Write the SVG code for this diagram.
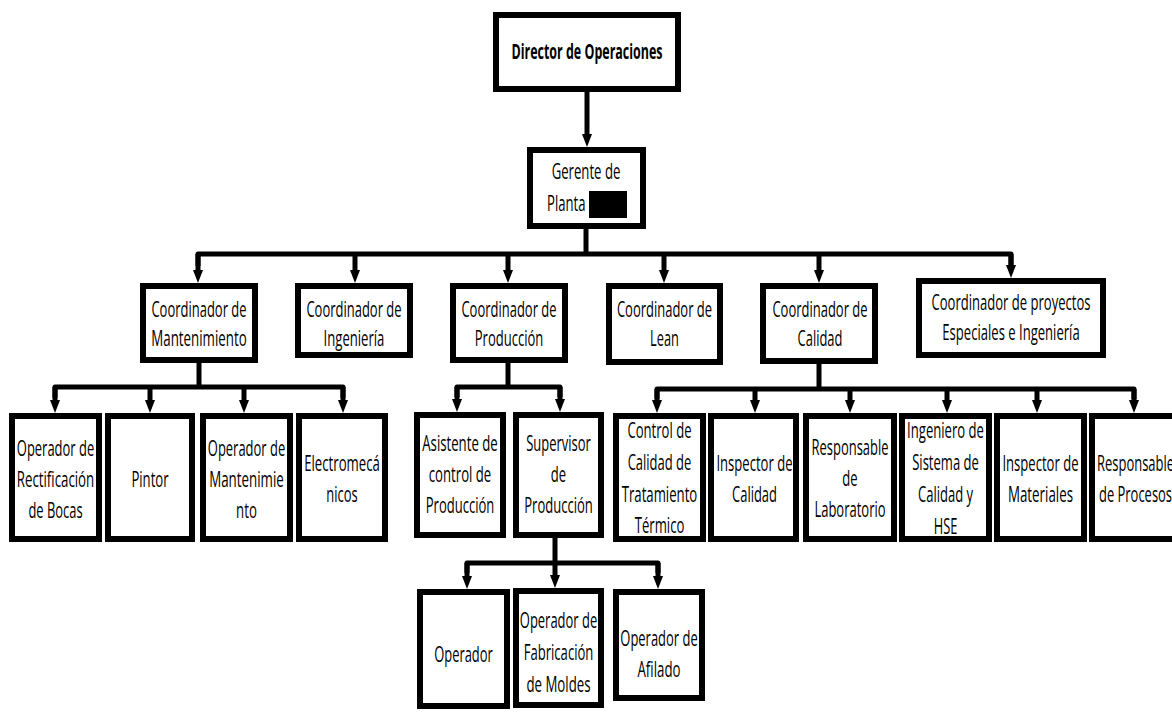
<svg xmlns="http://www.w3.org/2000/svg" width="1172" height="712" viewBox="0 0 1172 712">
  <style>
    .box { fill: #ffffff; stroke: #000000; stroke-width: 6; }
    .fill { fill: #ffffff; stroke: none; }
    .frame { fill: none; stroke: #000000; stroke-width: 6; }
    .t { font-family: "Open Sans", "Liberation Sans", sans-serif; font-size: 15px; fill: #000000; text-anchor: middle; }
    .b { font-weight: bold; font-size: 15.5px; }
    .s { text-anchor: start; }
    .wire { fill: none; stroke: #000000; stroke-width: 5; stroke-linejoin: round; }
    .arr { fill: none; stroke: #000000; stroke-width: 5; marker-end: url(#head); }
  </style>
  <defs>
    <marker id="head" viewBox="0 -5 13 10" refX="0" refY="0" markerWidth="13" markerHeight="10" markerUnits="userSpaceOnUse" orient="auto">
      <path d="M0,-5 L13,0 L0,5 Z" fill="#000000"/>
    </marker>
    <clipPath id="clipControl"><rect x="616" y="416" width="87" height="123"/></clipPath>
    <clipPath id="clipIng"><rect x="902" y="416" width="87" height="123"/></clipPath>
  </defs>

  <rect width="1172" height="712" fill="#ffffff"/>

  <!-- connectors -->
  <g id="connectors">
    <line class="arr" x1="587" y1="92" x2="587" y2="134"/>
    <line class="wire" x1="586" y1="229" x2="586" y2="254"/>
    <path class="wire" d="M198,266 V254 H1011 V266"/>
    <line class="arr" x1="198" y1="254" x2="198" y2="270"/>
    <line class="arr" x1="355" y1="254" x2="355" y2="270"/>
    <line class="arr" x1="508" y1="254" x2="508" y2="270"/>
    <line class="arr" x1="664" y1="254" x2="664" y2="270"/>
    <line class="arr" x1="819" y1="254" x2="819" y2="270"/>
    <line class="arr" x1="1011" y1="254" x2="1011" y2="265"/>

    <!-- maintenance staff -->
    <line class="wire" x1="199" y1="363" x2="199" y2="387"/>
    <path class="wire" d="M55,398 V387 H343 V398"/>
    <line class="arr" x1="55" y1="387" x2="55" y2="400"/>
    <line class="arr" x1="150" y1="387" x2="150" y2="400"/>
    <line class="arr" x1="244" y1="387" x2="244" y2="400"/>
    <line class="arr" x1="343" y1="387" x2="343" y2="400"/>

    <!-- production staff -->
    <line class="wire" x1="508" y1="363" x2="508" y2="387"/>
    <path class="wire" d="M457,397 V387 H560 V397"/>
    <line class="arr" x1="457" y1="387" x2="457" y2="399"/>
    <line class="arr" x1="560" y1="387" x2="560" y2="399"/>

    <!-- quality staff -->
    <line class="wire" x1="819" y1="364" x2="819" y2="389"/>
    <path class="wire" d="M657,399 V389 H1134 V399"/>
    <line class="arr" x1="657" y1="389" x2="657" y2="400"/>
    <line class="arr" x1="755" y1="389" x2="755" y2="400"/>
    <line class="arr" x1="850" y1="389" x2="850" y2="400"/>
    <line class="arr" x1="947" y1="389" x2="947" y2="400"/>
    <line class="arr" x1="1037" y1="389" x2="1037" y2="400"/>
    <line class="arr" x1="1134" y1="389" x2="1134" y2="400"/>

    <!-- supervisor's operators -->
    <line class="wire" x1="555" y1="538" x2="555" y2="563"/>
    <path class="wire" d="M467,573 V563 H658 V573"/>
    <line class="arr" x1="467" y1="563" x2="467" y2="576"/>
    <line class="arr" x1="555" y1="563" x2="555" y2="575"/>
    <line class="arr" x1="658" y1="563" x2="658" y2="576"/>
  </g>

  <!-- top management -->
  <g id="director">
    <rect class="box" x="496" y="15" width="182" height="74"/>
    <text class="t b" transform="translate(587 59) scale(1 1.42)" textLength="151" lengthAdjust="spacingAndGlyphs">Director de Operaciones</text>
  </g>
  <g id="gerente">
    <rect class="box" x="530" y="150" width="113" height="76"/>
    <text class="t" transform="translate(586 179) scale(1 1.4)" textLength="68.7" lengthAdjust="spacingAndGlyphs">Gerente de</text>
    <text class="t s" transform="translate(547 211) scale(1 1.4)" textLength="38.5" lengthAdjust="spacingAndGlyphs">Planta</text>
    <rect x="589" y="191" width="38" height="27" fill="#000000"/>
  </g>

  <!-- coordinators -->
  <g id="coord-mantenimiento">
    <rect class="box" x="143" y="286" width="112" height="74"/>
    <text class="t" transform="translate(199 317) scale(1 1.4)" textLength="95.2" lengthAdjust="spacingAndGlyphs">Coordinador de</text>
    <text class="t" transform="translate(199 346) scale(1 1.4)" textLength="95.4" lengthAdjust="spacingAndGlyphs">Mantenimiento</text>
  </g>
  <g id="coord-ingenieria">
    <rect class="box" x="298" y="286" width="112" height="69"/>
    <text class="t" transform="translate(354 317) scale(1 1.4)" textLength="95.2" lengthAdjust="spacingAndGlyphs">Coordinador de</text>
    <text class="t" transform="translate(354 346) scale(1 1.4)" textLength="60.8" lengthAdjust="spacingAndGlyphs">Ingeniería</text>
  </g>
  <g id="coord-produccion">
    <rect class="box" x="453" y="286" width="112" height="74"/>
    <text class="t" transform="translate(509 317) scale(1 1.4)" textLength="95.2" lengthAdjust="spacingAndGlyphs">Coordinador de</text>
    <text class="t" transform="translate(509 346) scale(1 1.4)" textLength="68.6" lengthAdjust="spacingAndGlyphs">Producción</text>
  </g>
  <g id="coord-lean">
    <rect class="box" x="609" y="286" width="111" height="76"/>
    <text class="t" transform="translate(664.5 317) scale(1 1.4)" textLength="95.2" lengthAdjust="spacingAndGlyphs">Coordinador de</text>
    <text class="t" transform="translate(664.5 346) scale(1 1.4)" textLength="28.8" lengthAdjust="spacingAndGlyphs">Lean</text>
  </g>
  <g id="coord-calidad">
    <rect class="box" x="763" y="286" width="112" height="75"/>
    <text class="t" transform="translate(820 317) scale(1 1.4)" textLength="95.2" lengthAdjust="spacingAndGlyphs">Coordinador de</text>
    <text class="t" transform="translate(820 346) scale(1 1.4)" textLength="45" lengthAdjust="spacingAndGlyphs">Calidad</text>
  </g>
  <g id="coord-proyectos">
    <rect class="box" x="919" y="281" width="184" height="74"/>
    <text class="t" transform="translate(1011 310) scale(1 1.4)" textLength="159" lengthAdjust="spacingAndGlyphs">Coordinador de proyectos</text>
    <text class="t" transform="translate(1011 340) scale(1 1.4)" textLength="137.3" lengthAdjust="spacingAndGlyphs">Especiales e Ingeniería</text>
  </g>

  <!-- maintenance staff -->
  <g id="op-rectificacion">
    <rect class="box" x="12" y="416" width="87" height="123"/>
    <text class="t" transform="translate(55.5 456) scale(1 1.4)" textLength="77.4" lengthAdjust="spacingAndGlyphs">Operador de</text>
    <text class="t" transform="translate(55.5 487) scale(1 1.4)" textLength="77.5" lengthAdjust="spacingAndGlyphs">Rectificación</text>
    <text class="t" transform="translate(55.5 518) scale(1 1.4)" textLength="54.2" lengthAdjust="spacingAndGlyphs">de Bocas</text>
  </g>
  <g id="pintor">
    <rect class="box" x="108" y="416" width="84" height="123"/>
    <text class="t" transform="translate(150 487) scale(1 1.4)" textLength="37.2" lengthAdjust="spacingAndGlyphs">Pintor</text>
  </g>
  <g id="op-mantenimiento">
    <rect class="box" x="203" y="416" width="87" height="123"/>
    <text class="t" transform="translate(246.5 456) scale(1 1.4)" textLength="77.4" lengthAdjust="spacingAndGlyphs">Operador de</text>
    <text class="t" transform="translate(246.5 487) scale(1 1.4)" textLength="74.6" lengthAdjust="spacingAndGlyphs">Mantenimie</text>
    <text class="t" transform="translate(246.5 518) scale(1 1.4)" textLength="20.8" lengthAdjust="spacingAndGlyphs">nto</text>
  </g>
  <g id="electromecanicos">
    <rect class="box" x="299" y="416" width="86" height="123"/>
    <text class="t" transform="translate(342 471) scale(1 1.4)" textLength="75.7" lengthAdjust="spacingAndGlyphs">Electromecá</text>
    <text class="t" transform="translate(342 502) scale(1 1.4)" textLength="31.4" lengthAdjust="spacingAndGlyphs">nicos</text>
  </g>

  <!-- production staff -->
  <g id="asistente-produccion">
    <rect class="box" x="417" y="415" width="86" height="120"/>
    <text class="t" transform="translate(460 451) scale(1 1.4)" textLength="75.5" lengthAdjust="spacingAndGlyphs">Asistente de</text>
    <text class="t" transform="translate(460 482) scale(1 1.4)" textLength="62.5" lengthAdjust="spacingAndGlyphs">control de</text>
    <text class="t" transform="translate(460 513) scale(1 1.4)" textLength="68.6" lengthAdjust="spacingAndGlyphs">Producción</text>
  </g>
  <g id="supervisor-produccion">
    <rect class="box" x="516" y="415" width="85" height="120"/>
    <text class="t" transform="translate(558.5 451) scale(1 1.4)" textLength="64.6" lengthAdjust="spacingAndGlyphs">Supervisor</text>
    <text class="t" transform="translate(558.5 482) scale(1 1.4)" textLength="15.3" lengthAdjust="spacingAndGlyphs">de</text>
    <text class="t" transform="translate(558.5 513) scale(1 1.4)" textLength="68.6" lengthAdjust="spacingAndGlyphs">Producción</text>
  </g>

  <!-- quality staff -->
  <g id="control-tratamiento">
    <rect class="fill" x="613" y="413" width="93" height="129"/>
    <g clip-path="url(#clipControl)">
      <text class="t" transform="translate(659.5 438) scale(1 1.4)" textLength="64.1" lengthAdjust="spacingAndGlyphs">Control de</text>
      <text class="t" transform="translate(659.5 470) scale(1 1.4)" textLength="63.7" lengthAdjust="spacingAndGlyphs">Calidad de</text>
      <text class="t" transform="translate(659.5 501.5) scale(1 1.4)" textLength="75.6" lengthAdjust="spacingAndGlyphs">Tratamiento</text>
      <text class="t" transform="translate(659.5 533) scale(1 1.4)" textLength="49.7" lengthAdjust="spacingAndGlyphs">Térmico</text>
    </g>
    <rect class="frame" x="616" y="416" width="87" height="123"/>
  </g>
  <g id="inspector-calidad">
    <rect class="box" x="711" y="416" width="85" height="123"/>
    <text class="t" transform="translate(754.5 471) scale(1 1.4)" textLength="76.1" lengthAdjust="spacingAndGlyphs">Inspector de</text>
    <text class="t" transform="translate(754.5 502) scale(1 1.4)" textLength="45" lengthAdjust="spacingAndGlyphs">Calidad</text>
  </g>
  <g id="responsable-laboratorio">
    <rect class="box" x="806" y="416" width="88" height="123"/>
    <text class="t" transform="translate(850 455) scale(1 1.4)" textLength="77" lengthAdjust="spacingAndGlyphs">Responsable</text>
    <text class="t" transform="translate(850 486) scale(1 1.4)" textLength="15.3" lengthAdjust="spacingAndGlyphs">de</text>
    <text class="t" transform="translate(850 517) scale(1 1.4)" textLength="71.2" lengthAdjust="spacingAndGlyphs">Laboratorio</text>
  </g>
  <g id="ingeniero-sistema">
    <rect class="fill" x="899" y="413" width="93" height="129"/>
    <g clip-path="url(#clipIng)">
      <text class="t" transform="translate(945.5 438) scale(1 1.4)" textLength="76.8" lengthAdjust="spacingAndGlyphs">Ingeniero de</text>
      <text class="t" transform="translate(945.5 470) scale(1 1.4)" textLength="66.6" lengthAdjust="spacingAndGlyphs">Sistema de</text>
      <text class="t" transform="translate(945.5 501.5) scale(1 1.4)" textLength="55.2" lengthAdjust="spacingAndGlyphs">Calidad y</text>
      <text class="t" transform="translate(945.5 534) scale(1 1.4)" textLength="23.6" lengthAdjust="spacingAndGlyphs">HSE</text>
    </g>
    <rect class="frame" x="902" y="416" width="87" height="123"/>
  </g>
  <g id="inspector-materiales">
    <rect class="box" x="997" y="416" width="87" height="123"/>
    <text class="t" transform="translate(1040.5 471) scale(1 1.4)" textLength="76.1" lengthAdjust="spacingAndGlyphs">Inspector de</text>
    <text class="t" transform="translate(1040.5 502) scale(1 1.4)" textLength="65.1" lengthAdjust="spacingAndGlyphs">Materiales</text>
  </g>
  <g id="responsable-procesos">
    <rect class="box" x="1092" y="416" width="87" height="123"/>
    <text class="t" transform="translate(1135.5 471) scale(1 1.4)" textLength="77" lengthAdjust="spacingAndGlyphs">Responsable</text>
    <text class="t" transform="translate(1135.5 502) scale(1 1.4)" textLength="73.1" lengthAdjust="spacingAndGlyphs">de Procesos</text>
  </g>

  <!-- operators -->
  <g id="operador">
    <rect class="box" x="420" y="592" width="87" height="114"/>
    <text class="t" transform="translate(463.5 662) scale(1 1.4)" textLength="58.7" lengthAdjust="spacingAndGlyphs">Operador</text>
  </g>
  <g id="op-fabricacion">
    <rect class="box" x="516" y="591" width="85" height="114"/>
    <text class="t" transform="translate(558.5 628) scale(1 1.4)" textLength="77.4" lengthAdjust="spacingAndGlyphs">Operador de</text>
    <text class="t" transform="translate(558.5 660) scale(1 1.4)" textLength="69.7" lengthAdjust="spacingAndGlyphs">Fabricación</text>
    <text class="t" transform="translate(558.5 692) scale(1 1.4)" textLength="64.1" lengthAdjust="spacingAndGlyphs">de Moldes</text>
  </g>
  <g id="op-afilado">
    <rect class="box" x="616" y="592" width="86" height="106"/>
    <text class="t" transform="translate(659 646) scale(1 1.4)" textLength="77.4" lengthAdjust="spacingAndGlyphs">Operador de</text>
    <text class="t" transform="translate(659 677) scale(1 1.4)" textLength="43.1" lengthAdjust="spacingAndGlyphs">Afilado</text>
  </g>
</svg>
